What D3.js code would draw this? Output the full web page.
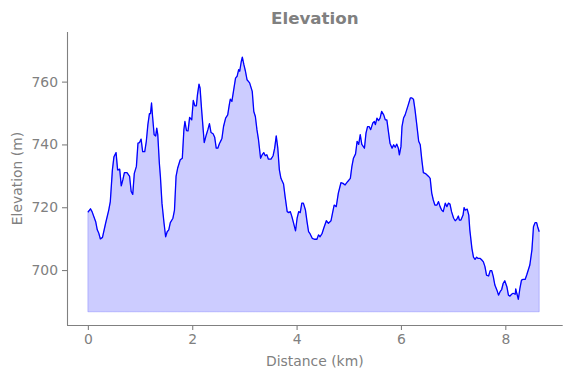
<!DOCTYPE html>
<html>
<head>
<meta charset="utf-8">
<script src="https://cdn.jsdelivr.net/npm/d3@7"></script>
<style>
  body { margin: 0; background: #fff; }
  svg text { font-family: "DejaVu Sans", sans-serif; fill: #808080; }
</style>
</head>
<body>
<div id="chart"></div>
<script>
// distance along the route (km) and elevation (m)
const distKm = [
  0.00, 0.05, 0.08, 0.15, 0.18, 0.21, 0.24, 0.28, 0.34, 0.40, 0.43, 0.47, 0.50, 0.54, 0.57, 0.61,
  0.64, 0.67, 0.70, 0.75, 0.80, 0.83, 0.86, 0.89, 0.93, 0.96, 0.99, 1.02, 1.05, 1.09, 1.12, 1.15,
  1.18, 1.20, 1.22, 1.24, 1.27, 1.30, 1.32, 1.34, 1.37, 1.39, 1.42, 1.46, 1.49, 1.52, 1.55, 1.58,
  1.63, 1.66, 1.69, 1.72, 1.77, 1.81, 1.84, 1.86, 1.89, 1.92, 1.95, 1.99, 2.02, 2.05, 2.08, 2.10,
  2.13, 2.15, 2.18, 2.21, 2.23, 2.27, 2.30, 2.33, 2.36, 2.40, 2.43, 2.46, 2.49, 2.52, 2.55, 2.57,
  2.60, 2.64, 2.68, 2.71, 2.73, 2.76, 2.79, 2.83, 2.86, 2.89, 2.91, 2.94, 2.96, 2.99, 3.02, 3.05,
  3.10, 3.15, 3.18, 3.21, 3.24, 3.27, 3.31, 3.34, 3.37, 3.40, 3.43, 3.46, 3.51, 3.55, 3.58, 3.61,
  3.64, 3.67, 3.70, 3.75, 3.78, 3.82, 3.85, 3.88, 3.91, 3.94, 3.98, 4.01, 4.04, 4.07, 4.10, 4.13,
  4.17, 4.20, 4.23, 4.26, 4.30, 4.34, 4.39, 4.42, 4.45, 4.49, 4.52, 4.57, 4.61, 4.66, 4.70, 4.72,
  4.76, 4.80, 4.85, 4.89, 4.93, 4.98, 5.03, 5.06, 5.09, 5.13, 5.16, 5.19, 5.22, 5.25, 5.30, 5.33,
  5.36, 5.39, 5.42, 5.46, 5.49, 5.51, 5.54, 5.57, 5.60, 5.63, 5.67, 5.70, 5.73, 5.76, 5.79, 5.83,
  5.86, 5.89, 5.92, 5.95, 5.97, 6.00, 6.02, 6.05, 6.08, 6.11, 6.14, 6.18, 6.21, 6.24, 6.27, 6.30,
  6.34, 6.37, 6.40, 6.43, 6.48, 6.53, 6.56, 6.59, 6.62, 6.65, 6.69, 6.72, 6.75, 6.78, 6.81, 6.85,
  6.88, 6.91, 6.94, 6.97, 7.01, 7.04, 7.07, 7.10, 7.12, 7.15, 7.19, 7.21, 7.23, 7.27, 7.30, 7.32,
  7.36, 7.39, 7.42, 7.45, 7.48, 7.52, 7.55, 7.58, 7.61, 7.64, 7.68, 7.71, 7.74, 7.77, 7.80, 7.84,
  7.87, 7.90, 7.93, 7.96, 7.99, 8.03, 8.06, 8.09, 8.12, 8.15, 8.19, 8.20, 8.22, 8.25, 8.28, 8.31,
  8.34, 8.38, 8.41, 8.44, 8.47, 8.51, 8.54, 8.57, 8.60, 8.62, 8.65
];
const elevM = [
  718.4, 719.5, 718.6, 715.4, 712.8, 711.7, 709.9, 710.4, 714.9, 719.1, 721.8, 731.9, 736.1, 737.4, 731.9, 732.1,
  726.8, 728.7, 731.0, 731.0, 729.8, 725.0, 724.1, 730.8, 733.0, 740.4, 740.6, 741.7, 737.7, 737.7, 741.0, 746.3,
  749.8, 749.8, 753.2, 748.9, 743.1, 742.7, 745.2, 743.1, 734.0, 729.8, 721.3, 714.9, 710.6, 712.2, 712.8, 715.1,
  716.5, 719.1, 729.8, 732.4, 735.1, 735.6, 744.7, 747.3, 744.4, 744.3, 748.6, 747.8, 754.0, 752.3, 752.3, 755.8,
  759.2, 758.0, 751.0, 744.7, 740.6, 743.1, 744.7, 746.6, 743.8, 743.4, 742.3, 738.8, 738.8, 740.2, 741.2, 742.0,
  745.7, 748.4, 749.4, 752.6, 754.4, 753.7, 756.9, 761.1, 761.7, 763.8, 763.3, 766.4, 767.8, 765.4, 763.3, 760.6,
  759.6, 756.9, 750.5, 748.9, 744.7, 741.5, 735.6, 736.7, 737.4, 736.4, 736.7, 735.3, 735.3, 736.4, 738.8, 742.7,
  738.8, 731.9, 729.2, 727.4, 723.4, 718.6, 718.3, 718.6, 717.0, 715.1, 712.5, 716.5, 718.6, 718.3, 721.3, 721.3,
  719.1, 715.4, 712.2, 711.5, 710.1, 709.8, 709.8, 711.2, 710.6, 711.7, 713.3, 715.7, 714.9, 715.7, 719.1, 720.7,
  720.2, 724.5, 727.8, 727.6, 727.1, 728.2, 729.2, 733.0, 735.6, 737.0, 741.0, 740.0, 743.1, 740.0, 738.8, 743.6,
  745.7, 745.7, 744.7, 746.8, 747.3, 746.3, 748.4, 747.6, 748.4, 750.5, 749.4, 747.8, 747.8, 744.1, 740.4, 738.8,
  739.9, 739.1, 740.1, 738.8, 736.7, 739.3, 745.7, 748.4, 749.4, 751.0, 752.6, 754.8, 754.8, 754.4, 751.0, 746.8,
  741.0, 739.9, 735.1, 731.0, 730.6, 729.8, 729.2, 724.5, 722.3, 720.7, 720.7, 721.8, 720.2, 719.1, 718.6, 721.3,
  720.2, 721.3, 721.0, 718.6, 716.5, 715.7, 716.2, 717.2, 715.9, 715.9, 717.5, 719.9, 719.1, 719.4, 717.5, 712.8,
  706.9, 704.1, 703.4, 704.1, 703.7, 703.7, 703.2, 702.6, 701.1, 698.4, 698.1, 699.8, 699.8, 697.9, 695.2, 693.6,
  692.0, 693.1, 693.8, 695.8, 696.6, 694.7, 692.0, 691.7, 692.3, 692.6, 692.3, 694.0, 692.6, 690.7, 694.2, 696.8,
  697.0, 697.0, 698.4, 700.0, 701.6, 706.4, 713.8, 715.1, 715.1, 713.8, 712.2
];
const baseElev = 686.7;
const xTicks = [0, 2, 4, 6, 8];
const yTicks = [700, 720, 740, 760];

const width = 571;
const height = 378;
const plotLeft = 67, plotRight = 562.7, plotTop = 32, plotBottom = 325;

const data = distKm.map((d, i) => ({ dist: d, elev: elevM[i] }));

const svg = d3.select("#chart")
  .append("svg")
  .attr("width", width)
  .attr("height", height);

const x = d3.scaleLinear().domain([-0.4, 9.1]).range([plotLeft, plotRight]);
const y = d3.scaleLinear().domain([682.5, 775.8]).range([plotBottom, plotTop]);

// shaded area under the profile
const area = d3.area()
  .x(d => x(d.dist))
  .y0(y(baseElev))
  .y1(d => y(d.elev));

svg.append("path")
  .datum(data)
  .attr("fill", "blue")
  .attr("fill-opacity", 0.2)
  .attr("stroke", "blue")
  .attr("stroke-opacity", 0.2)
  .attr("stroke-width", 1)
  .attr("d", area);

// profile line
const line = d3.line()
  .x(d => x(d.dist))
  .y(d => y(d.elev));

svg.append("path")
  .datum(data)
  .attr("fill", "none")
  .attr("stroke", "#0000ff")
  .attr("stroke-width", 1.3)
  .attr("stroke-linejoin", "round")
  .attr("d", line);

// axes
const xAxis = svg.append("g")
  .attr("transform", `translate(0,${plotBottom})`)
  .call(d3.axisBottom(x).tickValues(xTicks).tickFormat(d3.format("d")).tickSize(5).tickPadding(4));

const yAxis = svg.append("g")
  .attr("transform", `translate(${plotLeft},0)`)
  .call(d3.axisLeft(y).tickValues(yTicks).tickFormat(d3.format("d")).tickSize(5).tickPadding(4));

[xAxis, yAxis].forEach(g => {
  g.select(".domain").attr("stroke", "#808080").attr("stroke-width", 1.1);
  g.selectAll(".tick line").attr("stroke", "#808080").attr("stroke-width", 1.1);
  g.selectAll(".tick text")
    .attr("fill", "#808080")
    .style("font-family", "DejaVu Sans, sans-serif")
    .style("font-size", "13.9px");
});
xAxis.select(".domain").attr("d", `M${plotLeft},0.5H${plotRight}`);
yAxis.select(".domain").attr("d", `M0.5,${plotBottom}V${plotTop}`);

// title
svg.append("text")
  .attr("x", (plotLeft + plotRight) / 2)
  .attr("y", 24)
  .attr("text-anchor", "middle")
  .style("font-size", "16.7px")
  .style("font-weight", "bold")
  .text("Elevation");

// X label
svg.append("text")
  .attr("x", (plotLeft + plotRight) / 2)
  .attr("y", 366)
  .attr("text-anchor", "middle")
  .style("font-size", "13.9px")
  .text("Distance (km)");

// Y label
svg.append("text")
  .attr("transform", "rotate(-90)")
  .attr("x", -(plotTop + plotBottom) / 2)
  .attr("y", 22)
  .attr("text-anchor", "middle")
  .style("font-size", "13.9px")
  .text("Elevation (m)");
</script>
</body>
</html>
